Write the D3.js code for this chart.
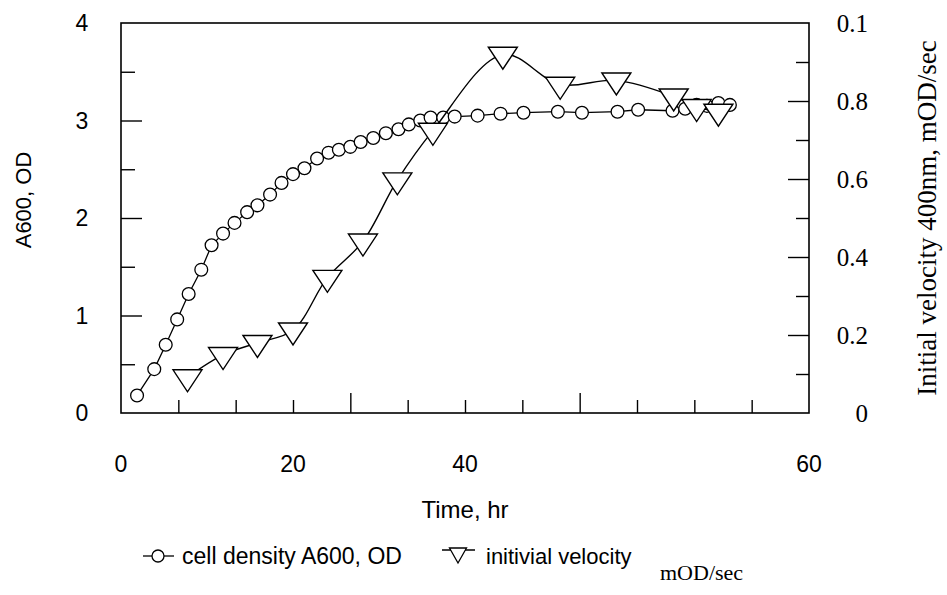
<!DOCTYPE html>
<html>
<head>
<meta charset="utf-8">
<script src="https://cdn.jsdelivr.net/npm/d3@7"></script>
<style>
  body { margin: 0; background: #fff; }
  .sans { font-family: "Liberation Sans", Arial, sans-serif; }
  .serif { font-family: "Liberation Serif", "Times New Roman", serif; }
</style>
</head>
<body>
<div id="chart"></div>
<script>
// cell density, A600 (left axis)
const densityHours = [1.4, 2.9, 3.9, 4.9, 5.9, 7.0, 7.9, 8.9, 9.9, 11.0, 11.9, 13.0, 14.0, 15.0, 16.0, 17.1, 18.1, 19.0, 20.0, 20.9,
    22.0, 23.1, 24.2, 25.1, 26.1, 27.0, 28.1, 29.1, 31.1, 33.1, 35.1, 38.1, 40.2, 43.3, 45.1, 48.1, 49.2, 50.2, 51.1, 52.1, 53.1];
const densityOD = [0.18, 0.45, 0.70, 0.96, 1.22, 1.47, 1.72, 1.84, 1.95, 2.06, 2.13, 2.24, 2.36, 2.45, 2.51, 2.61, 2.67, 2.70, 2.73, 2.78,
    2.82, 2.87, 2.91, 2.96, 3.00, 3.03, 3.03, 3.04, 3.05, 3.07, 3.08, 3.09, 3.08, 3.09, 3.11, 3.10, 3.12, 3.16, 3.15, 3.18, 3.16];

// initial velocity, mOD/sec (right axis)
const velocityHours = [5.8, 8.9, 11.9, 15.0, 18.0, 21.1, 24.1, 27.2, 33.3, 38.3, 43.2, 48.2, 50.2, 52.1];
const velocity = [0.092, 0.149, 0.18, 0.212, 0.347, 0.44, 0.597, 0.724, 0.919, 0.842, 0.853, 0.812, 0.785, 0.773];

// tick labels as printed in the figure (x labels sit at these hour positions)
const xLabelAt = [0, 15, 30, 60];
const xLabels = ["0", "20", "40", "60"];
const leftTicks = [0, 1, 2, 3, 4];
const rightTicks = [0, 0.2, 0.4, 0.6, 0.8, 1.0];
const rightLabels = ["0", "0.2", "0.4", "0.6", "0.8", "0.1"];

let width = 947, height = 595;
let plotL = 121, plotR = 809, plotT = 23, plotB = 413;

let svg = d3.select("#chart").append("svg")
    .attr("width", width)
    .attr("height", height);

let x = d3.scaleLinear().domain([0, 60]).range([plotL, plotR]);
let yL = d3.scaleLinear().domain([0, 4]).range([plotB, plotT]);
let yR = d3.scaleLinear().domain([0, 1]).range([plotB, plotT]);

function styleAxis(g) {
    g.select(".domain").remove();
    g.selectAll("line").attr("stroke", "#000").attr("stroke-width", 1.4);
}

// x ticks (inward), longer at 20 and 40
svg.append("g").attr("transform", "translate(0," + plotB + ")")
    .call(d3.axisBottom(x).tickValues(d3.range(5, 60, 5).filter(d => d % 20 != 0)).tickSize(-13).tickFormat(""))
    .call(styleAxis);
svg.append("g").attr("transform", "translate(0," + plotB + ")")
    .call(d3.axisBottom(x).tickValues([20, 40]).tickSize(-20).tickFormat(""))
    .call(styleAxis);

// left ticks
svg.append("g").attr("transform", "translate(" + plotL + ",0)")
    .call(d3.axisLeft(yL).tickValues([0.5, 1.5, 2.5, 3.5]).tickSize(-14).tickFormat(""))
    .call(styleAxis);
svg.append("g").attr("transform", "translate(" + plotL + ",0)")
    .call(d3.axisLeft(yL).tickValues([1, 2, 3]).tickSize(-21).tickFormat(""))
    .call(styleAxis);

// right ticks
svg.append("g").attr("transform", "translate(" + plotR + ",0)")
    .call(d3.axisRight(yR).tickValues([0.1, 0.3, 0.5, 0.7, 0.9]).tickSize(-13).tickFormat(""))
    .call(styleAxis);
svg.append("g").attr("transform", "translate(" + plotR + ",0)")
    .call(d3.axisRight(yR).tickValues([0.2, 0.4, 0.6, 0.8]).tickSize(-21).tickFormat(""))
    .call(styleAxis);

// frame
svg.append("rect")
    .attr("x", plotL).attr("y", plotT)
    .attr("width", plotR - plotL).attr("height", plotB - plotT)
    .attr("fill", "none").attr("stroke", "#000").attr("stroke-width", 1.6);

// tick labels
svg.selectAll(".ly").data(leftTicks).enter().append("text")
    .attr("class", "sans")
    .attr("x", 82).attr("y", d => yL(d)).attr("dy", "0.36em")
    .attr("text-anchor", "middle").style("font-size", "23px")
    .text(d => d);

svg.selectAll(".lx").data(xLabelAt).enter().append("text")
    .attr("class", "sans")
    .attr("x", d => x(d)).attr("y", 464).attr("dy", "0.36em")
    .attr("text-anchor", "middle").style("font-size", "23px")
    .text((d, i) => xLabels[i]);

svg.selectAll(".ry").data(rightTicks).enter().append("text")
    .attr("class", "serif")
    .attr("x", 868).attr("y", d => yR(d)).attr("dy", "0.36em")
    .attr("text-anchor", "end").style("font-size", "25px")
    .text((d, i) => rightLabels[i]);

// axis titles
svg.append("text").attr("class", "sans")
    .attr("transform", "translate(31,200) rotate(-90)")
    .attr("text-anchor", "middle").style("font-size", "22px")
    .text("A600, OD");

svg.append("text").attr("class", "sans")
    .attr("x", 465).attr("y", 518)
    .attr("text-anchor", "middle").style("font-size", "24px")
    .text("Time, hr");

svg.append("text").attr("class", "serif")
    .attr("transform", "translate(936,218) rotate(-90)")
    .attr("text-anchor", "middle").style("font-size", "27px")
    .text("Initial velocity 400nm, mOD/sec");

// density series
let density = densityHours.map((h, i) => ({h: h, v: densityOD[i]}));
svg.append("path").datum(density)
    .attr("fill", "none").attr("stroke", "#000").attr("stroke-width", 1.3)
    .attr("d", d3.line().x(d => x(d.h)).y(d => yL(d.v)));
svg.selectAll(".dot").data(density).enter().append("circle")
    .attr("cx", d => x(d.h)).attr("cy", d => yL(d.v)).attr("r", 6.4)
    .attr("fill", "#fff").attr("stroke", "#000").attr("stroke-width", 1.3);

// velocity series
let vel = velocityHours.map((h, i) => ({h: h, v: velocity[i]}));
svg.append("path").datum(vel)
    .attr("fill", "none").attr("stroke", "#000").attr("stroke-width", 1.4)
    .attr("d", d3.line().curve(d3.curveCatmullRom).x(d => x(d.h)).y(d => yR(d.v)));

function tri(w, h) {
    return "M" + (-w / 2) + "," + (-h / 3) + "L" + (w / 2) + "," + (-h / 3) + "L0," + (2 * h / 3) + "Z";
}
svg.selectAll(".tri").data(vel).enter().append("path")
    .attr("transform", d => "translate(" + x(d.h) + "," + yR(d.v) + ")")
    .attr("d", tri(29, 22))
    .attr("fill", "#fff").attr("stroke", "#000").attr("stroke-width", 1.4);

// legend
let lg = svg.append("g");
lg.append("line").attr("x1", 143).attr("x2", 174).attr("y1", 556).attr("y2", 556)
    .attr("stroke", "#000").attr("stroke-width", 1.3);
lg.append("circle").attr("cx", 158).attr("cy", 556).attr("r", 6)
    .attr("fill", "#fff").attr("stroke", "#000").attr("stroke-width", 1.3);
lg.append("text").attr("class", "sans").attr("x", 182).attr("y", 564)
    .style("font-size", "23px").text("cell density A600, OD");

lg.append("line").attr("x1", 442).attr("x2", 475).attr("y1", 550).attr("y2", 550)
    .attr("stroke", "#000").attr("stroke-width", 1.3);
lg.append("path").attr("transform", "translate(458,553)").attr("d", tri(17, 15))
    .attr("fill", "#fff").attr("stroke", "#000").attr("stroke-width", 1.3);
lg.append("text").attr("class", "sans").attr("x", 486).attr("y", 564)
    .style("font-size", "22px").text("initivial velocity");
lg.append("text").attr("class", "serif").attr("x", 660).attr("y", 580)
    .style("font-size", "22px").text("mOD/sec");
</script>
</body>
</html>
